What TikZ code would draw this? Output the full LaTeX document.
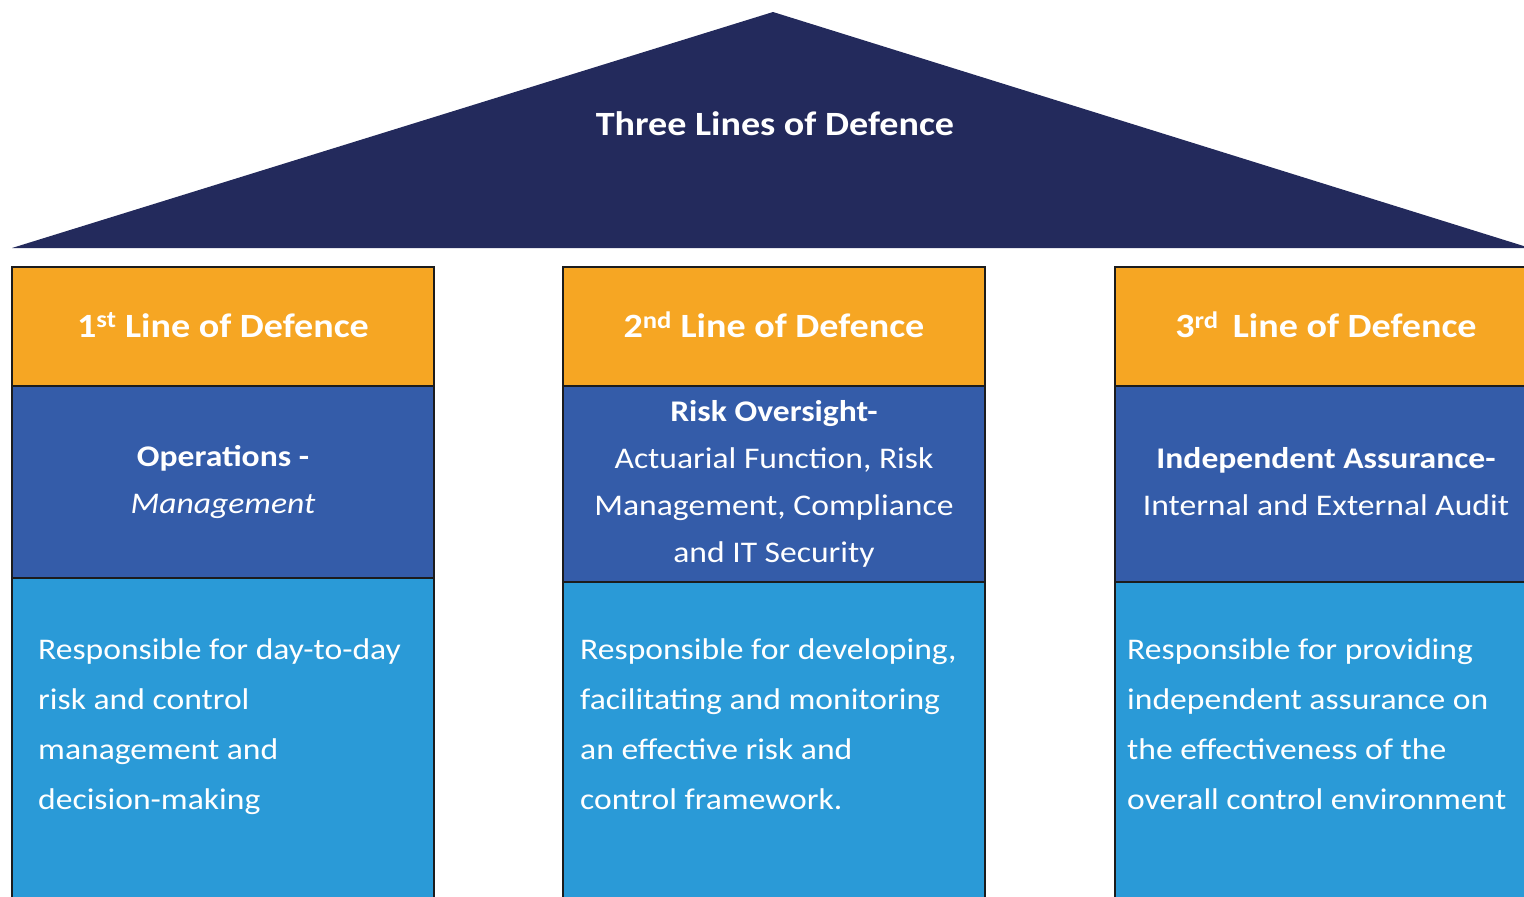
\documentclass[tikz,border=0pt]{standalone}
\usepackage{fontspec}
\setmainfont[FakeStretch=1.12]{Carlito}
\usepackage{xcolor}
\usetikzlibrary{positioning}
\definecolor{roofnavy}{HTML}{232A5C}
\definecolor{headorange}{HTML}{F6A623}
\definecolor{roleblue}{HTML}{345CA9}
\definecolor{dutyblue}{HTML}{2A9AD7}
\definecolor{edge}{HTML}{1C1C1C}

\begin{document}
\begin{tikzpicture}[x=1pt, y=-1pt, node distance=0pt, every node/.style={text=white},
  head/.style={draw=edge, line width=1.5pt, outer sep=0pt, fill=headorange, minimum width=422pt, minimum height=119pt, font=\fontsize{34}{40}\selectfont\bfseries},
  role/.style={draw=edge, line width=1.5pt, outer sep=0pt, fill=roleblue, minimum width=422pt, minimum height=196pt, align=center, font=\fontsize{30}{47}\selectfont},
  duty/.style={draw=edge, line width=1.5pt, outer sep=0pt, fill=dutyblue, minimum width=422pt, minimum height=330pt},
  dutytext/.style={anchor=north west, inner sep=0pt, align=left, font=\fontsize{30}{50}\selectfont}
]
\useasboundingbox (0,0) rectangle (1524,897);
% roof
\fill[roofnavy] (12,248) -- (773,12) -- (1530,248) -- cycle;
\node[font=\fontsize{34}{40}\selectfont\bfseries] (title) at (775,124) {Three Lines of Defence};
% first line
\node[head] (head1) at (223,326.5) {\raisebox{3pt}{1\textsuperscript{st} Line of Defence}};
\node[role, minimum height=192pt, below=of head1] (role1) {\textbf{Operations -}\\\textit{Management}};
\node[duty, below=of role1] (duty1) {};
% second line
\node[head] (head2) at (774,326.5) {\raisebox{3pt}{2\textsuperscript{nd} Line of Defence}};
\node[role, below=of head2] (role2) {\raisebox{3pt}{\textbf{Risk Oversight-}}\\\raisebox{3pt}{Actuarial Function, Risk}\\\raisebox{3pt}{Management, Compliance}\\\raisebox{3pt}{and IT Security}};
\node[duty, below=of role2] (duty2) {};
% third line
\node[head] (head3) at (1326,326.5) {\raisebox{3pt}{3\textsuperscript{rd}\, Line of Defence}};
\node[role, below=of head3] (role3) {\raisebox{5pt}{\textbf{Independent Assurance-}}\\\raisebox{5pt}{Internal and External Audit}};
\node[duty, below=of role3] (duty3) {};
% duties
\node[dutytext] (text1) at (38,638) {Responsible for day-to-day\\risk and control\\management and\\decision-making};
\node[dutytext] (text2) at (580,638) {Responsible for developing,\\facilitating and monitoring\\an effective risk and\\control framework.};
\node[dutytext] (text3) at (1127,638) {Responsible for providing\\independent assurance on\\the effectiveness of the\\overall control environment};
\end{tikzpicture}
\end{document}
